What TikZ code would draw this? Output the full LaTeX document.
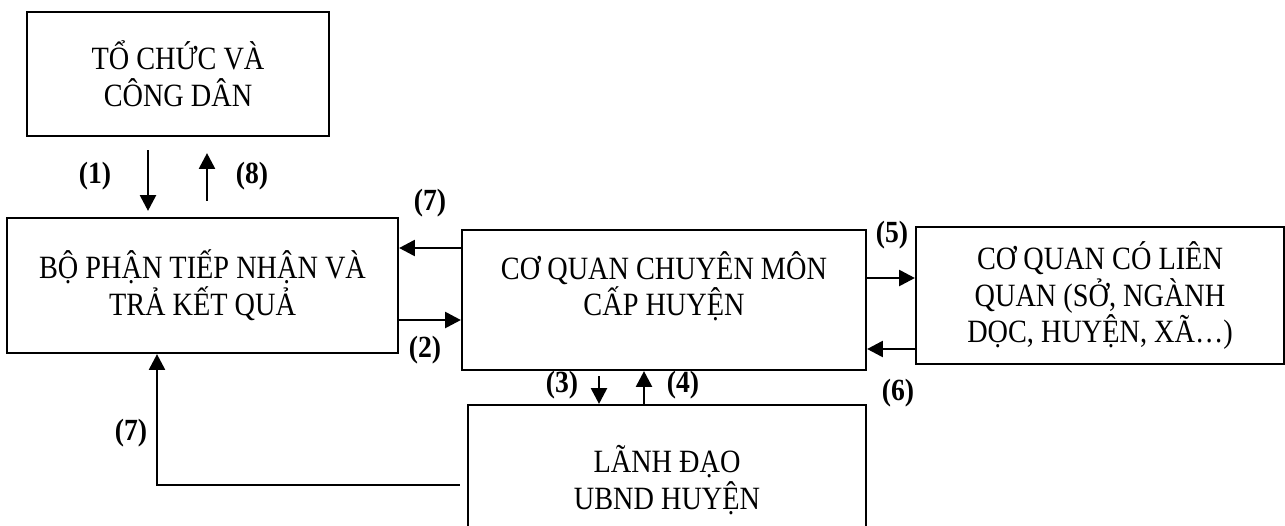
\documentclass[tikz,border=0pt]{standalone}
\usepackage{fontspec}
\setmainfont{Liberation Serif}
\newfontfamily\boxfont[FakeStretch=0.87]{Liberation Serif}
\newfontfamily\numfont[FakeStretch=0.9]{Liberation Serif}
\usetikzlibrary{positioning,arrows.meta}

\begin{document}
\begin{tikzpicture}[
    box/.style={
        rectangle,
        draw,
        line width=1.2pt,
        align=center,
        inner sep=0pt,
        font=\boxfont\fontsize{18.5}{21}\selectfont
    },
    arrow/.style={
        -{Triangle[length=9pt,width=9pt]},
        line width=1.6pt
    },
    lbl/.style={
        inner sep=0pt,
        font=\numfont\bfseries\fontsize{17.5}{20}\selectfont
    }
]
\useasboundingbox (0,0) rectangle (25.7,-10.5);

% ---------------- BOXES ----------------
\node[box, minimum width=6.04cm, minimum height=2.48cm] (citizen) at (3.56,-1.48) {
    TỔ CHỨC VÀ\\
    CÔNG DÂN
};

\node[box, minimum width=7.82cm, minimum height=2.7cm] (desk) at (4.05,-5.71) {
    BỘ PHẬN TIẾP NHẬN VÀ\\
    TRẢ KẾT QUẢ
};

\node[box, minimum width=8.08cm, minimum height=2.8cm, text depth=0.66cm] (agency) at (13.28,-6.0) {
    CƠ QUAN CHUYÊN MÔN\\
    CẤP HUYỆN
};

\node[box, minimum width=7.36cm, minimum height=2.74cm] (related) at (22.0,-5.91) {
    CƠ QUAN CÓ LIÊN\\
    QUAN (SỞ, NGÀNH\\
    DỌC, HUYỆN, XÃ…)
};

\node[box, minimum width=7.96cm, minimum height=3.2cm, text depth=0.3cm] (leader) at (13.34,-9.7) {
    LÃNH ĐẠO\\
    UBND HUYỆN
};

% ---------------- ARROWS ----------------
\draw[arrow] ([xshift=-0.6cm,yshift=-0.26cm]citizen.south) -- ([xshift=-0.6cm,yshift=0.12cm]citizen.south |- desk.north);
\draw[arrow] ([xshift=0.58cm,yshift=0.32cm]citizen.south |- desk.north) -- ([xshift=0.58cm,yshift=-0.32cm]citizen.south);
\draw[arrow] ([yshift=1.04cm]agency.west) -- ([yshift=1.04cm]agency.west -| desk.east);
\draw[arrow] ([yshift=-0.69cm]desk.east) -- ([yshift=-0.69cm]desk.east -| agency.west);
\draw[arrow] ([yshift=0.35cm]related.west -| agency.east) -- ([yshift=0.35cm]related.west);
\draw[arrow] ([yshift=-1.07cm]related.west) -- ([yshift=-1.07cm]related.west -| agency.east);
\draw[arrow] ([xshift=-1.3cm,yshift=-0.1cm]agency.south) -- ([xshift=-1.3cm]agency.south |- leader.north);
\draw[arrow] ([xshift=-0.4cm]agency.south |- leader.north) -- ([xshift=-0.4cm]agency.south);
\draw[arrow] ([xshift=-0.14cm]leader.west) -| ([xshift=-0.91cm]desk.south);

% ---------------- LABELS ----------------
\node[lbl] (l1) at (1.9,-3.52) {(1)};
\node[lbl] (l8) at (5.04,-3.52) {(8)};
\node[lbl] (l7a) at (8.6,-4.06) {(7)};
\node[lbl] (l2) at (8.5,-7.0) {(2)};
\node[lbl] (l5) at (17.84,-4.7) {(5)};
\node[lbl] (l6) at (17.96,-7.86) {(6)};
\node[lbl] (l3) at (11.24,-7.7) {(3)};
\node[lbl] (l4) at (13.66,-7.7) {(4)};
\node[lbl] (l7b) at (2.62,-8.66) {(7)};

\end{tikzpicture}
\end{document}
